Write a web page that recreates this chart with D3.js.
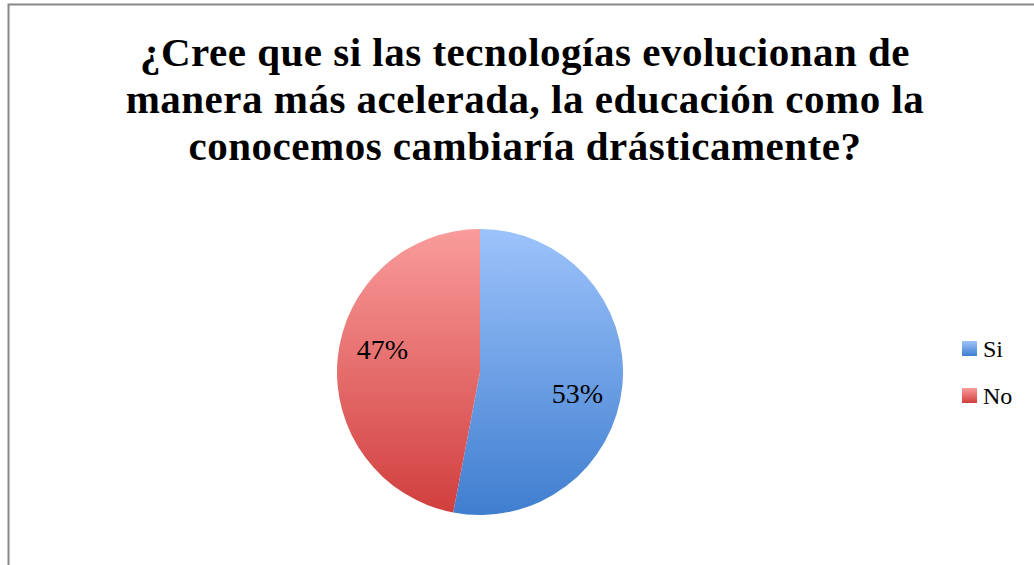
<!DOCTYPE html>
<html>
<head>
<meta charset="utf-8">
<script src="https://cdn.jsdelivr.net/npm/d3@7"></script>
<style>
  body { margin: 0; background: #fff; }
  svg { display: block; }
</style>
</head>
<body>
<script>
// data
var titleLines = [
    "¿Cree que si las tecnologías evolucionan de",
    "manera más acelerada, la educación como la",
    "conocemos cambiaría drásticamente?"
];
var categories = ["Si", "No"];
var values = [53, 47];
var topColors = ["#9dc3fb", "#f99c9b"];
var bottomColors = ["#3f7ecf", "#d03e3d"];

var width = 1034;
var height = 565;
var font = "Liberation Serif";

var svg = d3.select( "body" )
    .append( "svg" )
    .attr( "width", width )
    .attr( "height", height );

// chart frame
svg.append( "rect" )
    .attr( "x", 8.5 )
    .attr( "y", 4.5 )
    .attr( "width", 1030 )
    .attr( "height", 600 )
    .attr( "fill", "none" )
    .attr( "stroke", "#878787" )
    .attr( "stroke-width", 2 );

// title, one text per line
svg.selectAll( "text.title" )
    .data( titleLines )
    .enter()
    .append( "text" )
    .attr( "class", "title" )
    .attr( "x", 525 )
    .attr( "y", function(d, i) { return 66 + i * 47; } )
    .attr( "text-anchor", "middle" )
    .attr( "font-family", font )
    .attr( "font-weight", "bold" )
    .attr( "font-size", 41 )
    .attr( "letter-spacing", 0.5 )
    .text( function(d) { return d; } );

var cx = 480, cy = 372, r = 143;

var defs = svg.append( "defs" );
categories.forEach(function(c, i) {
    // gradient runs top to bottom of the whole pie, in the slice's local coords
    var grad = defs.append( "linearGradient" )
        .attr( "id", "grad" + i )
        .attr( "gradientUnits", "userSpaceOnUse" )
        .attr( "x1", 0 ).attr( "y1", -r )
        .attr( "x2", 0 ).attr( "y2", r );
    grad.append( "stop" ).attr( "offset", "0%" ).attr( "stop-color", topColors[i] );
    grad.append( "stop" ).attr( "offset", "100%" ).attr( "stop-color", bottomColors[i] );

    var lg = defs.append( "linearGradient" )
        .attr( "id", "lgrad" + i )
        .attr( "x1", 0 ).attr( "y1", 0 )
        .attr( "x2", 0 ).attr( "y2", 1 );
    lg.append( "stop" ).attr( "offset", "0%" ).attr( "stop-color", topColors[i] );
    lg.append( "stop" ).attr( "offset", "100%" ).attr( "stop-color", bottomColors[i] );
});

var pie = d3.pie()
    .sort( null )
    .value( function(d) { return d; } );

var arcs = pie( values );

var arc = d3.arc()
    .innerRadius( 0 )
    .outerRadius( r );

var g = svg.append( "g" )
    .attr( "transform", "translate(" + cx + "," + cy + ")" );

g.selectAll( "path" )
    .data( arcs )
    .enter()
    .append( "path" )
    .attr( "fill", function(d, i) { return "url(#grad" + i + ")"; } )
    .attr( "d", arc );

// data labels, placed a little clockwise of the slice middle like the original
var labelArc = d3.arc()
    .innerRadius( 100 )
    .outerRadius( 100 );

g.selectAll( "text" )
    .data( arcs )
    .enter()
    .append( "text" )
    .attr( "transform", function(d) {
        var shift = 0.13;
        var c = labelArc.centroid({ startAngle: d.startAngle + shift, endAngle: d.endAngle + shift });
        return "translate(" + c[0] + "," + c[1] + ")";
    })
    .attr( "text-anchor", "middle" )
    .attr( "dy", "0.33em" )
    .attr( "font-family", font )
    .attr( "font-size", 28 )
    .text( function(d) { return d.value + "%"; } );

// legend
var legend = svg.selectAll( "g.leg" )
    .data( categories )
    .enter()
    .append( "g" )
    .attr( "class", "leg" )
    .attr( "transform", function(d, i) { return "translate(962," + (341 + i * 47) + ")"; } );

legend.append( "rect" )
    .attr( "width", 15 )
    .attr( "height", 15 )
    .attr( "fill", function(d, i) { return "url(#lgrad" + i + ")"; } );

legend.append( "text" )
    .attr( "x", 21 )
    .attr( "y", 16 )
    .attr( "font-family", font )
    .attr( "font-size", 24 )
    .text( function(d) { return d; } );
</script>
</body>
</html>
